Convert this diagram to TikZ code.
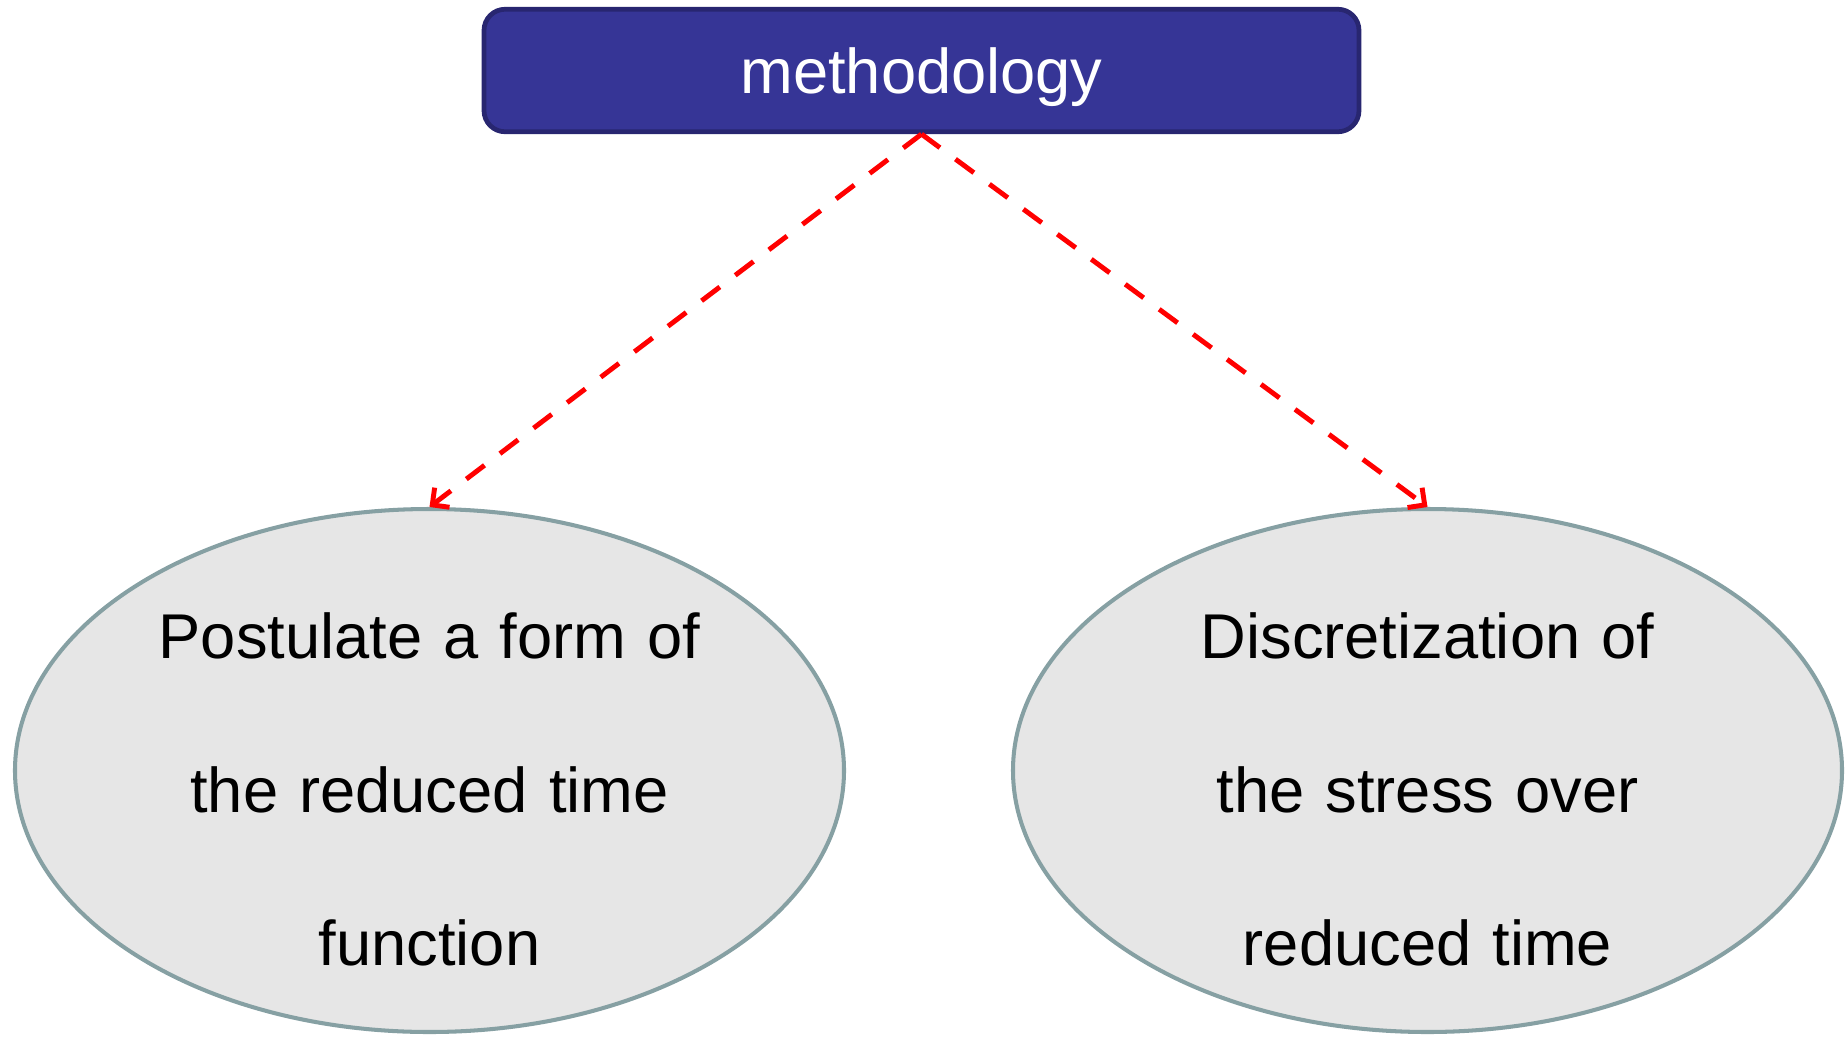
\documentclass[tikz,border=0pt]{standalone}
\usepackage{fontspec}
\setmainfont{Liberation Sans}
\usetikzlibrary{positioning,shapes,shapes.geometric,arrows.meta}
\definecolor{headFill}{RGB}{54,53,150}
\definecolor{headLine}{RGB}{40,38,112}
\definecolor{stepFill}{RGB}{230,230,230}
\definecolor{stepLine}{RGB}{134,160,163}
\tikzset{
   mapHead/.style = {
         rectangle,
         draw = headLine,
         fill = headFill,
         line width = 2.7pt,
         rounded corners = 12pt,
         align = center,
         text = white,
         text depth = 0pt,
         font = \fontsize{36}{43}\selectfont,
         minimum width = 17.5cm,
         minimum height = 2.45cm,
      },
   mapPhase/.style = {
         ellipse,
         draw = stepLine,
         fill = stepFill,
         line width = 2.3pt,
         inner sep = 0pt,
         minimum width = 16.58cm,
         minimum height = 10.46cm,
      },
   mapText/.style = {
         align = center,
         text width = 12cm,
         font = \fontsize{36}{87.4}\selectfont,
      },
   mapLine/.style = {
         draw = red,
         line width = 2.8pt,
         dash pattern = on 13pt off 11pt,
         -{Straight Barb[length=7pt,width=14pt,line width=2.8pt]},
      },
}

\begin{document}
\begin{tikzpicture}[node distance = 2cm, auto]

\useasboundingbox (0,0) rectangle (36.94,-20.72);

% Place nodes
\node [mapHead] at (18.43,-1.41) (methodology){methodology};

\node [mapPhase, below of =methodology, yshift=-12cm, xshift=-9.84cm]
	(postulate){};
\node [mapPhase, below of =methodology, yshift=-12cm, xshift=10.12cm]
	(discretize){};

\node [mapText] at ([yshift=-0.38cm]postulate.center)
	(postulate-text){Postulate a form of\\the reduced time\\function};
\node [mapText] at ([yshift=-0.38cm]discretize.center)
	(discretize-text){Discretization of\\the stress over\\reduced time};

% Draw edges
\path [mapLine] (methodology.south) -- (postulate.north);
\path [mapLine] (methodology.south) -- (discretize.north);

\end{tikzpicture}
\end{document}
